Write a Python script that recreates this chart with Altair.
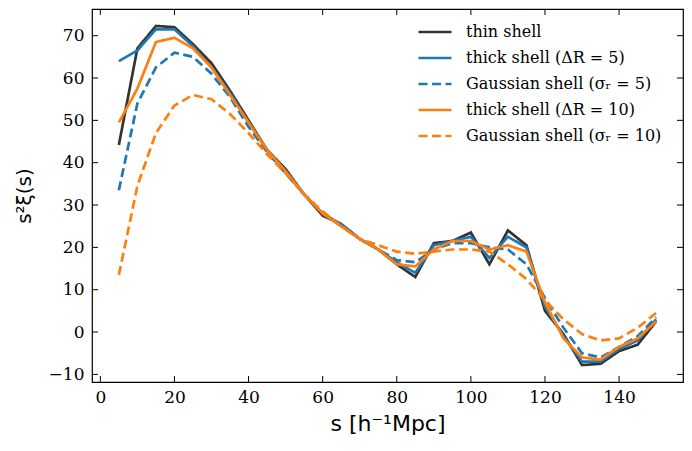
import altair as alt
import pandas as pd

s_vals = [5, 10, 15, 20, 25, 30, 35, 40, 45, 50, 55, 60, 65, 70, 75,
          80, 85, 90, 95, 100, 105, 110, 115, 120, 125, 130, 135, 140, 145, 150]

thin = [44.2, 67, 72.3, 72.0, 68, 63.5, 57, 50, 43, 38.5, 32.5, 27.5, 25.5, 22, 19.5,
        16, 13, 21, 21.5, 23.5, 16, 24, 20.5, 5, -0.5, -7.8, -7.5, -4.5, -3, 2.5]
thick5 = [64, 66.5, 71.5, 71.5, 67.5, 62.5, 56.5, 49.5, 43, 38, 32.5, 28, 25.5, 22, 19.5,
          16.5, 14, 20.5, 21.5, 22.5, 17.5, 22.5, 20, 6, -1, -7, -7, -4, -2, 3]
gauss5 = [33.5, 54, 62.5, 66, 65, 61, 55.5, 48.5, 42.5, 37.5, 32.5, 28, 25, 22, 19.5,
          17, 16.5, 19.5, 21, 21, 20, 19.5, 16, 8, 1, -5, -6, -3.5, -1, 3.5]
thick10 = [49.5, 57.5, 68.5, 69.5, 67, 62.5, 56, 49.5, 43, 38, 32.5, 28, 25, 22, 19.5,
           16, 15.5, 19.5, 21.5, 21.5, 19.5, 20.5, 19, 7, -1.5, -6, -6.5, -3.5, -1.5, 2.5]
gauss10 = [13.5, 34.5, 47, 53.5, 56, 55, 51.5, 47, 42, 37.5, 32.5, 28.5, 25, 22, 20.5,
           19, 18.5, 19, 19.5, 19.5, 19, 16, 12.5, 7.5, 3, -0.5, -2, -1.5, 1, 4.5]

names = ["thin shell", "thick shell (ΔR = 5)", "Gaussian shell (σᵣ = 5)",
         "thick shell (ΔR = 10)", "Gaussian shell (σᵣ = 10)"]
series_vals = [thin, thick5, gauss5, thick10, gauss10]
colors = ["#333333", "#1f77b4", "#1f77b4", "#ff7f0e", "#ff7f0e"]
dashes = [[1, 0], [1, 0], [9, 4.5], [1, 0], [9, 4.5]]

x_ticks = [0, 20, 40, 60, 80, 100, 120, 140]
y_ticks = [-10, 0, 10, 20, 30, 40, 50, 60, 70]

rows = []
for name, vals in zip(names, series_vals):
    for s, v in zip(s_vals, vals):
        rows.append({"s": s, "v": v, "series": name})
df = pd.DataFrame(rows)

W, H = 591, 373
xscale = alt.Scale(domain=[-2.25, 157.25], nice=False, zero=False)
yscale = alt.Scale(domain=[-11.8, 76.3], nice=False, zero=False)

xaxis = alt.Axis(title="s [h⁻¹Mpc]", values=x_ticks, tickSize=0,
                 labelPadding=7, grid=False, domain=False,
                 titleFontSize=22, titleFont="DejaVu Sans",
                 titleFontWeight="normal", titlePadding=8)
yaxis = alt.Axis(title="s²ξ(s)", values=y_ticks, tickSize=0,
                 labelPadding=8, grid=False, domain=False,
                 titleFontSize=20, titleFont="DejaVu Sans",
                 titleFontWeight="normal", titlePadding=14)

legend = alt.Legend(title=None, orient="none", legendX=325, legendY=5,
                    symbolType="stroke", symbolSize=1090, symbolStrokeWidth=2.6,
                    labelFont="DejaVu Serif", labelFontSize=16, labelColor="black",
                    labelLimit=0, rowPadding=0, labelOffset=13, padding=0)

layers = []
for name in names:
    layers.append(
        alt.Chart(df).transform_filter(alt.datum.series == name)
        .mark_line(strokeWidth=2.7)
        .encode(
            x=alt.X("s:Q", scale=xscale, axis=xaxis),
            y=alt.Y("v:Q", scale=yscale, axis=yaxis),
            color=alt.Color("series:N", scale=alt.Scale(domain=names, range=colors),
                            legend=legend, sort=names),
            strokeDash=alt.StrokeDash("series:N", scale=alt.Scale(domain=names, range=dashes),
                                      legend=legend, sort=names),
        )
    )

xt = pd.DataFrame({"s": x_ticks})
yt = pd.DataFrame({"v": y_ticks})
tick_style = dict(color="black", strokeWidth=1)
xb = alt.Chart(xt).mark_rule(**tick_style).encode(
    x=alt.X("s:Q", scale=xscale, axis=xaxis), y=alt.value(H - 6), y2=alt.value(H))
xtop = alt.Chart(xt).mark_rule(**tick_style).encode(
    x=alt.X("s:Q", scale=xscale, axis=xaxis), y=alt.value(0), y2=alt.value(6))
yl = alt.Chart(yt).mark_rule(**tick_style).encode(
    y=alt.Y("v:Q", scale=yscale, axis=yaxis), x=alt.value(0), x2=alt.value(6))
yr = alt.Chart(yt).mark_rule(**tick_style).encode(
    y=alt.Y("v:Q", scale=yscale, axis=yaxis), x=alt.value(W - 6), x2=alt.value(W))

chart = alt.layer(*layers, xb, xtop, yl, yr).properties(
    width=W, height=H,
    background="white",
    autosize=alt.AutoSizeParams(type="none"),
    padding={"left": 92, "top": 9, "right": 9, "bottom": 69},
).configure_view(stroke="black", strokeWidth=1.2).configure_axis(
    labelFont="DejaVu Serif", labelFontSize=17, labelColor="black", titleColor="black"
)

chart.save("out.html", embed_options={"renderer": "svg", "actions": False})
